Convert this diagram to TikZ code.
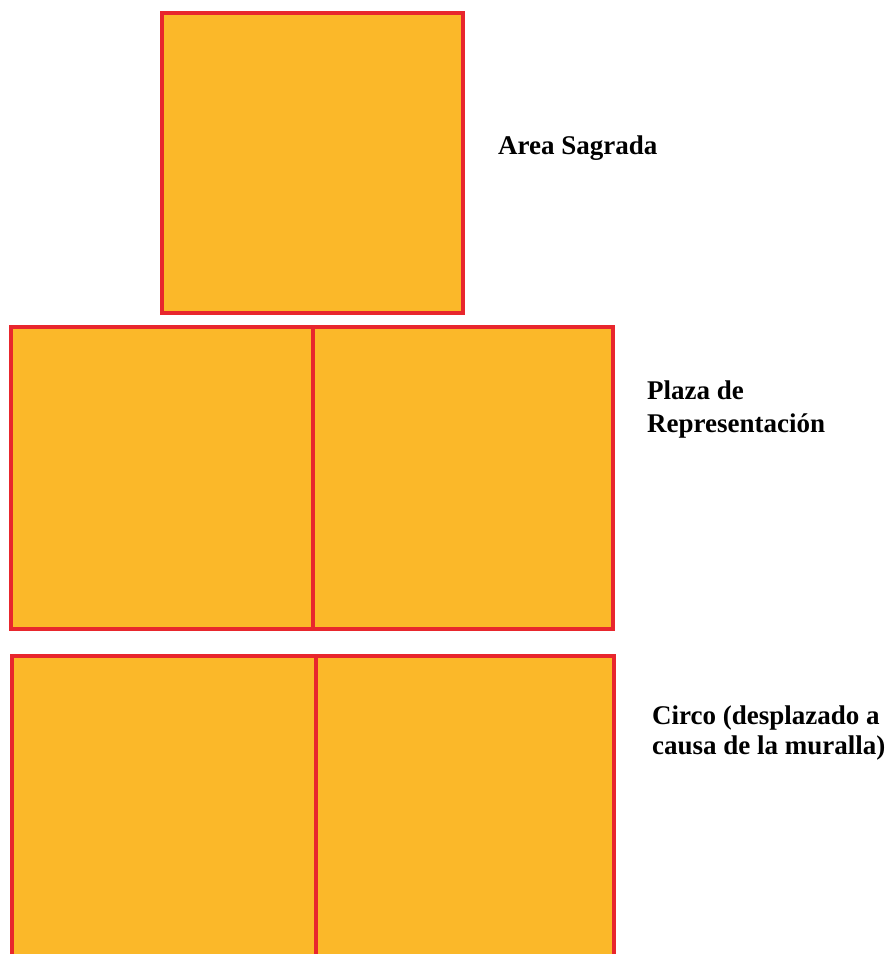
\documentclass[tikz,border=0pt]{standalone}
\usepackage{fontspec}
\setmainfont{Liberation Serif}
\usepackage{xcolor}
\usetikzlibrary{positioning}
\definecolor{fieldc}{HTML}{FBB829}
\definecolor{edgec}{HTML}{E8262D}
\tikzset{
  field/.style={fill=fieldc,draw=edgec,line width=3.2pt},
  wall/.style={edgec,line width=3.2pt},
  lbl/.style={anchor=west,align=left,inner sep=0pt,font=\bfseries\fontsize{27}{33}\selectfont}
}
\begin{document}
\begin{tikzpicture}[x=1pt,y=-1pt]
\useasboundingbox (0,0) rectangle (891,954);
% area sagrada
\draw[field] (162,13) rectangle (463,313);
\node[lbl] (sagrada) at (498,148) {Area Sagrada};
% plaza
\draw[field] (11,327) rectangle (613,629);
\draw[wall] (313,327) -- (313,629);
\node[lbl] (plaza) at (647,409) {Plaza de\\Representación};
% circo, cut at the bottom
\fill[fieldc] (12,656) rectangle (614,954);
\draw[wall] (12,960) -- (12,656) -- (614,656) -- (614,960);
\draw[wall] (316,656) -- (316,960);
\node[lbl,font=\bfseries\fontsize{27}{30}\selectfont] (circo) at (652,733) {Circo (desplazado a\\causa de la muralla)};
\end{tikzpicture}
\end{document}
